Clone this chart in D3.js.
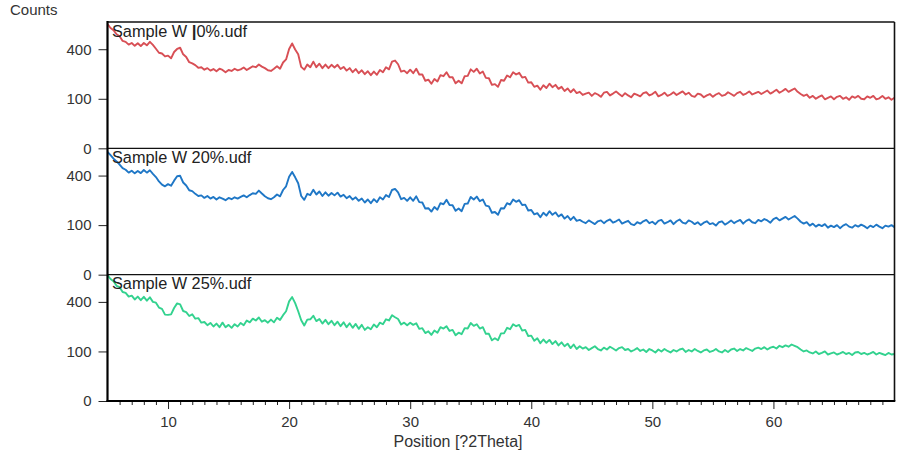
<!DOCTYPE html>
<html><head><meta charset="utf-8">
<script src="https://cdn.jsdelivr.net/npm/d3@7"></script>
<style>body{margin:0;background:#fff}svg{display:block}text{font-family:"Liberation Sans",Arial,sans-serif}</style>
</head><body><svg id="c" width="899" height="456"></svg>
<script>
const positions = [
5,5.25,5.5,5.75, 6,6.25,6.5,6.75, 7,7.25,7.5,7.75, 8,8.25,8.5,8.75, 9,9.25,9.5,9.75,
10,10.25,10.5,10.75, 11,11.25,11.5,11.75, 12,12.25,12.5,12.75, 13,13.25,13.5,13.75, 14,14.25,14.5,14.75,
15,15.25,15.5,15.75, 16,16.25,16.5,16.75, 17,17.25,17.5,17.75, 18,18.25,18.5,18.75, 19,19.25,19.5,19.75,
20,20.25,20.5,20.75, 21,21.25,21.5,21.75, 22,22.25,22.5,22.75, 23,23.25,23.5,23.75, 24,24.25,24.5,24.75,
25,25.25,25.5,25.75, 26,26.25,26.5,26.75, 27,27.25,27.5,27.75, 28,28.25,28.5,28.75, 29,29.25,29.5,29.75,
30,30.25,30.5,30.75, 31,31.25,31.5,31.75, 32,32.25,32.5,32.75, 33,33.25,33.5,33.75, 34,34.25,34.5,34.75,
35,35.25,35.5,35.75, 36,36.25,36.5,36.75, 37,37.25,37.5,37.75, 38,38.25,38.5,38.75, 39,39.25,39.5,39.75,
40,40.25,40.5,40.75, 41,41.25,41.5,41.75, 42,42.25,42.5,42.75, 43,43.25,43.5,43.75, 44,44.25,44.5,44.75,
45,45.25,45.5,45.75, 46,46.25,46.5,46.75, 47,47.25,47.5,47.75, 48,48.25,48.5,48.75, 49,49.25,49.5,49.75,
50,50.25,50.5,50.75, 51,51.25,51.5,51.75, 52,52.25,52.5,52.75, 53,53.25,53.5,53.75, 54,54.25,54.5,54.75,
55,55.25,55.5,55.75, 56,56.25,56.5,56.75, 57,57.25,57.5,57.75, 58,58.25,58.5,58.75, 59,59.25,59.5,59.75,
60,60.25,60.5,60.75, 61,61.25,61.5,61.75, 62,62.25,62.5,62.75, 63,63.25,63.5,63.75, 64,64.25,64.5,64.75,
65,65.25,65.5,65.75, 66,66.25,66.5,66.75, 67,67.25,67.5,67.75, 68,68.25,68.5,68.75, 69,69.25,69.5,69.75,
70];

const counts0 = [
630,590,568,530, 512,470,462,438, 452,428,450,426, 452,432,462,436, 404,372,366,344,
350,330,378,402, 412,360,340,302, 294,282,264,268, 252,262,246,256, 242,258,250,236,
250,244,258,248, 254,266,250,262, 274,268,286,272, 262,248,244,258, 274,258,300,322,
402,448,398,360, 270,252,286,268, 306,268,292,262, 286,262,284,266, 284,256,270,246,
262,236,256,230, 248,224,242,218, 240,220,250,236, 268,254,306,314, 288,240,246,230,
252,230,258,222, 222,186,192,170, 196,182,218,212, 236,206,206,172, 186,172,212,214,
254,238,258,228, 240,202,200,164, 168,154,190,186, 216,206,236,222, 232,204,208,176,
178,154,160,140, 162,148,170,152, 164,144,154,134, 146,128,142,124, 130,116,122,126,
112,124,118,108, 126,130,114,122, 132,120,110,124, 114,106,122,116, 110,124,128,114,
120,130,110,116, 126,112,118,128, 116,124,132,118, 126,112,108,122, 118,106,114,120,
108,118,124,112, 116,128,120,112, 124,130,116,122, 132,118,124,130, 120,128,136,122,
130,140,126,134, 144,130,138,146, 130,120,112,118, 104,112,100,108, 114,98,104,110,
98,108,112,100, 106,96,110,104, 112,100,98,110, 104,112,98,102, 112,100,106,96,
104];

const counts20 = [
615,582,548,522, 494,462,448,424, 440,418,438,420, 446,424,444,414, 388,354,330,318,
334,322,360,394, 398,346,324,290, 284,266,252,256, 240,252,236,246, 230,244,236,226,
240,232,244,236, 246,256,244,258, 270,266,288,268, 250,238,232,244, 262,250,292,318,
390,430,386,340, 252,228,266,258, 294,262,282,252, 276,254,272,256, 274,248,260,238,
252,230,244,222, 236,212,230,208, 232,214,244,230, 258,246,292,300, 276,232,240,222,
244,222,250,214, 212,178,180,162, 186,172,208,202, 228,198,196,166, 178,164,204,206,
246,230,248,220, 230,194,190,156, 160,146,180,178, 208,200,230,216, 226,198,200,168,
170,148,154,134, 156,142,164,146, 158,138,148,128, 140,122,136,118, 122,114,108,120,
112,104,116,120, 108,118,124,110, 116,124,106,112, 118,104,100,112, 106,116,122,108,
114,104,118,122, 106,112,120,104, 116,124,110,106, 120,114,104,112, 100,110,116,104,
108,98,112,116, 102,110,120,108, 116,122,106,118, 124,112,108,122, 116,126,120,110,
126,132,120,128, 136,124,132,140, 128,114,106,112, 98,106,94,102, 96,104,90,98,
92,100,88,98, 104,94,90,100, 94,102,96,88, 98,92,102,94, 88,98,94,100,
92];

const counts25 = [
645,606,584,540, 528,484,476,444, 452,420,444,414, 442,410,438,400, 394,356,346,304,
302,306,352,388, 380,330,322,294, 306,276,280,250, 254,234,248,226, 244,222,250,222,
236,218,240,226, 248,234,264,252, 276,264,284,256, 266,250,270,252, 282,268,300,328,
404,440,390,328, 266,232,270,272, 296,260,274,244, 268,240,262,234, 256,228,252,222,
246,218,242,212, 236,206,222,210, 238,222,250,240, 272,264,300,286, 274,238,250,234,
250,236,246,212, 216,188,198,178, 202,190,222,214, 228,200,206,176, 190,182,216,214,
248,230,240,214, 222,184,184,150, 160,150,186,186, 218,210,240,228, 236,202,206,172,
174,148,160,136, 154,138,152,132, 146,126,140,122, 134,114,130,110, 122,112,118,106,
114,122,110,104, 116,108,120,112, 104,114,118,106, 110,100,106,114, 102,108,98,110,
104,96,108,100, 110,102,96,106, 100,108,112,98, 106,100,110,102, 96,104,108,98,
102,110,100,96, 106,98,108,112, 102,110,104,114, 108,102,112,116, 110,118,108,116,
120,112,124,118, 126,120,130,124, 118,108,100,104, 96,92,100,90, 94,100,88,92,
96,88,92,98, 90,94,86,96, 98,90,94,88, 92,98,88,94, 90,86,94,88,
90];

const sampleNames = ["Sample W ", "Sample W 20%.udf", "Sample W 25%.udf"];
const seriesColors = ["#d84f55", "#1f77c6", "#33d28f"];
const xTicks = [10, 20, 30, 40, 50, 60];
const xMinorTicks = [6,7,8,9,11,12,13,14,15,16,17,18,19,21,22,23,24,25,26,27,28,29,31,32,33,34,35,36,37,38,39,41,42,43,44,45,46,47,48,49,51,52,53,54,55,56,57,58,59,61,62,63,64,65,66,67,68,69];
const yTicks = [0, 100, 400];
const xDomain = [5, 70];
const yMax = 650;
const yTitle = "Counts";
const xTitle = "Position [?2Theta]";

const svg = d3.select("#c");
const L = 107.5, R = 894.5, T = 22, B = 401;
const ph = (B - T) / 3;
const x = d3.scaleLinear().domain(xDomain).range([L, R]);
const series = [counts0, counts20, counts25];

series.forEach((vals, i) => {
  const top = T + i * ph, bot = top + ph;
  const y = d3.scaleSqrt().domain([0, yMax]).range([bot, top]);
  svg.append("clipPath").attr("id", "cp" + i).append("rect")
    .attr("x", L).attr("y", top).attr("width", R - L).attr("height", ph);
  const line = d3.line().x((d, k) => x(positions[k])).y(d => y(d));
  svg.append("path").datum(vals)
    .attr("clip-path", `url(#cp${i})`)
    .attr("fill", "none").attr("stroke", seriesColors[i])
    .attr("stroke-width", 1.9).attr("stroke-linejoin", "round")
    .attr("d", line);

  const ax = svg.append("g").attr("transform", `translate(${L},0)`)
    .call(d3.axisLeft(y).tickValues(yTicks).tickSize(9).tickPadding(7).tickFormat(d3.format("d")));
  ax.select(".domain").remove();
  ax.selectAll("line").attr("stroke", "#222");
  ax.selectAll("text").attr("font-size", 15).attr("fill", "#333")
    .attr("font-family", '"Liberation Sans",Arial,sans-serif');

  const t = svg.append("text").attr("x", 112).attr("y", top + 14.5)
    .attr("font-size", 16.3).attr("fill", "#222").text(sampleNames[i]);
  if (i === 0) {
    t.append("tspan").attr("font-weight", "bold").attr("font-size", 17).text("|");
    t.append("tspan").text("0%.udf");
  }
  if (i > 0) {
    svg.append("line").attr("x1", L).attr("x2", R).attr("y1", top).attr("y2", top)
      .attr("stroke", "#111").attr("stroke-width", 1.2);
  }
});

const bx = svg.append("g").attr("transform", `translate(0,${B})`)
  .call(d3.axisBottom(x).tickValues(xMinorTicks).tickSize(4).tickFormat(""));
bx.select(".domain").remove();
bx.selectAll("line").attr("stroke", "#222");
const bxm = svg.append("g").attr("transform", `translate(0,${B})`)
  .call(d3.axisBottom(x).tickValues(xTicks).tickSize(8).tickPadding(7).tickFormat(d3.format("d")));
bxm.select(".domain").remove();
bxm.selectAll("line").attr("stroke", "#222");
bxm.selectAll("text").attr("font-size", 15).attr("fill", "#333")
  .attr("font-family", '"Liberation Sans",Arial,sans-serif');

// frame
svg.append("line").attr("x1", L).attr("x2", R).attr("y1", T).attr("y2", T).attr("stroke", "#111").attr("stroke-width", 1.6);
svg.append("line").attr("x1", R).attr("x2", R).attr("y1", T).attr("y2", B).attr("stroke", "#111").attr("stroke-width", 1.6);
svg.append("line").attr("x1", L).attr("x2", L).attr("y1", T - 1).attr("y2", B + 1).attr("stroke", "#000").attr("stroke-width", 2.2);
svg.append("line").attr("x1", L - 1).attr("x2", R + 0.8).attr("y1", B).attr("y2", B).attr("stroke", "#000").attr("stroke-width", 2.2);

svg.append("text").attr("x", 10).attr("y", 15).attr("font-size", 15).attr("fill", "#333").text(yTitle);
svg.append("text").attr("x", 458).attr("y", 447).attr("text-anchor", "middle")
  .attr("font-size", 16).attr("fill", "#333").text(xTitle);
</script></body></html>
